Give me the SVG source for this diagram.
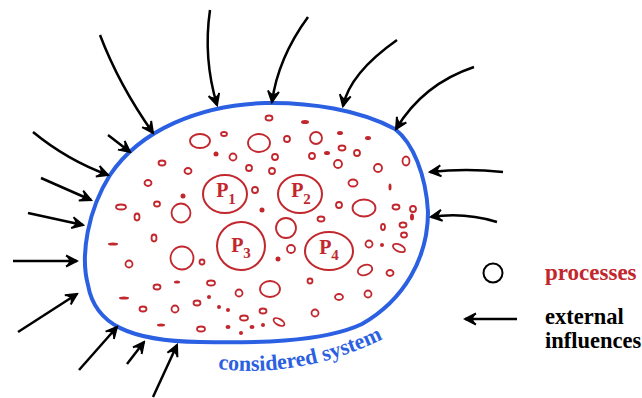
<svg xmlns="http://www.w3.org/2000/svg" width="642" height="398" viewBox="0 0 642 398">
  <style>
    .sys { fill: none; stroke: #2b60e2; stroke-width: 4; }
    .arr { fill: none; stroke: #000; stroke-width: 2.5; marker-end: url(#ah); }
    .ring { fill: none; stroke: #c1272d; stroke-width: 1.8; }
    .dot { fill: #c1272d; stroke: none; }
    .proc { fill: none; stroke: #c1272d; stroke-width: 2; }
    .plabel { font-family: "Liberation Serif", "Times New Roman", serif; font-weight: bold; font-size: 20px; fill: #c1272d; text-anchor: middle; }
    .sub { font-size: 15px; }
    .legend { font-family: "Liberation Serif", "Times New Roman", serif; font-weight: bold; font-size: 23px; }
    .legend2 { font-family: "Liberation Serif", "Times New Roman", serif; font-weight: bold; font-size: 22.5px; fill: #000; }
  </style>
  <defs>
    <marker id="ah" viewBox="-13 -7 15 14" refX="0" refY="0" markerWidth="15" markerHeight="14" markerUnits="userSpaceOnUse" orient="auto">
      <path d="M0,0 L-11,-5.5 L-7.5,0 L-11,5.5 Z" fill="#000"/>
      <path d="M-11,-5.5 L0,0 L-11,5.5" fill="none" stroke="#000" stroke-width="2" stroke-linejoin="miter"/>
    </marker>
    <path id="sysLabelPath" d="M218,369 Q305,379 391,335"/>
  </defs>

  <!-- system boundary -->
  <g id="system">
    <path class="sys" d="M265,103 C310,102 360,110 395,129 C413,143 426,175 428,212 C428,258 404,300 362,324 C322,343 250,343 200,342 C130,341 95,325 88,285 C80,255 88,210 110,175 C140,130 200,105 265,103 Z"/>
    <text font-family="Liberation Serif, Times New Roman, serif" font-weight="bold" font-size="22" fill="#2b60e2">
      <textPath href="#sysLabelPath">considered system</textPath>
    </text>
  </g>

  <!-- small processes inside the system -->
  <g id="small-processes">
    <ellipse class="ring" cx="200" cy="141" rx="10" ry="7"/>
    <ellipse class="ring" cx="259" cy="143" rx="11" ry="9"/>
    <ellipse class="ring" cx="316" cy="138" rx="6" ry="6"/>
    <ellipse class="ring" cx="181" cy="213" rx="9.5" ry="9.5"/>
    <ellipse class="ring" cx="286" cy="228" rx="10" ry="10"/>
    <ellipse class="ring" cx="182" cy="258" rx="11.5" ry="11.5"/>
    <ellipse class="ring" cx="364" cy="208" rx="11.5" ry="8.5"/>
    <ellipse class="ring" cx="270" cy="289" rx="10" ry="8"/>
    <ellipse class="ring" cx="365" cy="270" rx="7.5" ry="5" transform="rotate(-20 365 270)"/>
    <ellipse class="ring" cx="399" cy="248" rx="6.5" ry="3.5" transform="rotate(25 399 248)"/>
    <ellipse class="ring" cx="279" cy="322" rx="6" ry="3" transform="rotate(30 279 322)"/>

    <ellipse class="ring" cx="224" cy="134" rx="3" ry="2"/>
    <ellipse class="ring" cx="269" cy="118" rx="3.5" ry="2.5"/>
    <ellipse class="ring" cx="233" cy="157" rx="3.5" ry="3.5"/>
    <ellipse class="ring" cx="162" cy="163" rx="3.5" ry="2.5"/>
    <ellipse class="ring" cx="188" cy="171" rx="3.5" ry="3"/>
    <ellipse class="ring" cx="249" cy="168" rx="3" ry="3"/>
    <ellipse class="ring" cx="148" cy="183" rx="3.5" ry="3"/>
    <ellipse class="ring" cx="255" cy="190" rx="3" ry="3"/>
    <ellipse class="ring" cx="157" cy="204" rx="3" ry="2.5"/>
    <ellipse class="ring" cx="137" cy="217" rx="2.5" ry="3.5"/>
    <ellipse class="ring" cx="121" cy="207" rx="5" ry="2.5"/>
    <ellipse class="ring" cx="154" cy="238" rx="2.5" ry="3.5"/>
    <ellipse class="ring" cx="287" cy="139" rx="3" ry="3"/>
    <ellipse class="ring" cx="275" cy="157" rx="3" ry="3"/>
    <ellipse class="ring" cx="312" cy="156" rx="3" ry="3"/>
    <ellipse class="ring" cx="342" cy="148" rx="3.5" ry="2.5"/>
    <ellipse class="ring" cx="357" cy="153" rx="3" ry="3"/>
    <ellipse class="ring" cx="338" cy="164" rx="4" ry="4"/>
    <ellipse class="ring" cx="378" cy="168" rx="4" ry="4"/>
    <ellipse class="ring" cx="406" cy="161" rx="3.5" ry="4.5"/>
    <ellipse class="ring" cx="272" cy="171" rx="3" ry="3"/>
    <ellipse class="ring" cx="353" cy="183" rx="4.5" ry="3.5"/>
    <ellipse class="ring" cx="339" cy="205" rx="3" ry="3"/>
    <ellipse class="ring" cx="396" cy="207" rx="3.5" ry="2.5"/>
    <ellipse class="ring" cx="413" cy="209" rx="3" ry="3"/>
    <ellipse class="ring" cx="321" cy="219" rx="3.5" ry="2.5"/>
    <ellipse class="ring" cx="383" cy="227" rx="2" ry="3"/>
    <ellipse class="ring" cx="403" cy="225" rx="3.5" ry="2.5"/>
    <ellipse class="ring" cx="404" cy="235" rx="3" ry="2.5"/>
    <ellipse class="ring" cx="291" cy="249" rx="4" ry="4"/>
    <ellipse class="ring" cx="369" cy="244" rx="3.5" ry="3.5"/>
    <ellipse class="ring" cx="390" cy="273" rx="3.5" ry="3"/>
    <ellipse class="ring" cx="310" cy="281" rx="2.5" ry="2.5"/>
    <ellipse class="ring" cx="202" cy="262" rx="2.5" ry="2.5"/>
    <ellipse class="ring" cx="129" cy="264" rx="3.5" ry="3.5"/>
    <ellipse class="ring" cx="157" cy="287" rx="3.5" ry="2.5"/>
    <ellipse class="ring" cx="211" cy="283" rx="4" ry="2.5"/>
    <ellipse class="ring" cx="239" cy="293" rx="3.5" ry="3.5"/>
    <ellipse class="ring" cx="197" cy="303" rx="3.5" ry="2.5"/>
    <ellipse class="ring" cx="143" cy="309" rx="3.5" ry="2.5"/>
    <ellipse class="ring" cx="175" cy="309" rx="3.5" ry="3.5"/>
    <ellipse class="ring" cx="263" cy="311" rx="3.5" ry="2.5"/>
    <ellipse class="ring" cx="244" cy="318" rx="4" ry="2.5"/>
    <ellipse class="ring" cx="201" cy="329" rx="4" ry="2.5"/>
    <ellipse class="ring" cx="315" cy="313" rx="3.5" ry="3.5"/>
    <ellipse class="ring" cx="339" cy="297" rx="4" ry="3"/>
    <ellipse class="ring" cx="368" cy="294" rx="3.5" ry="3.5"/>

    <ellipse class="dot" cx="305" cy="122" rx="4" ry="2"/>
    <ellipse class="dot" cx="340" cy="133" rx="3" ry="2"/>
    <ellipse class="dot" cx="368" cy="138" rx="3" ry="2"/>
    <ellipse class="dot" cx="327" cy="153" rx="3" ry="2"/>
    <ellipse class="dot" cx="216" cy="154" rx="2.5" ry="2.5"/>
    <ellipse class="dot" cx="183" cy="196" rx="2.5" ry="2.5"/>
    <ellipse class="dot" cx="262" cy="210" rx="2.5" ry="2.5"/>
    <ellipse class="dot" cx="390" cy="187" rx="1.5" ry="3.5"/>
    <ellipse class="dot" cx="412" cy="217" rx="2" ry="3.5"/>
    <ellipse class="dot" cx="382" cy="245" rx="2" ry="2"/>
    <ellipse class="dot" cx="278" cy="259" rx="2.5" ry="2.5"/>
    <ellipse class="dot" cx="113" cy="244" rx="5" ry="1.5"/>
    <ellipse class="dot" cx="177" cy="282" rx="3" ry="1.5"/>
    <ellipse class="dot" cx="124" cy="298" rx="5" ry="1.5"/>
    <ellipse class="dot" cx="209" cy="297" rx="2" ry="2"/>
    <ellipse class="dot" cx="219" cy="307" rx="2" ry="2"/>
    <ellipse class="dot" cx="228" cy="310" rx="2" ry="2"/>
    <ellipse class="dot" cx="161" cy="325" rx="4" ry="1.5"/>
    <ellipse class="dot" cx="228" cy="327" rx="2.5" ry="2"/>
    <ellipse class="dot" cx="252" cy="327" rx="2.5" ry="2"/>
    <ellipse class="dot" cx="263" cy="325" rx="2" ry="2"/>
    <ellipse class="dot" cx="241" cy="333" rx="2" ry="2"/>
  </g>

  <!-- labelled processes -->
  <g id="P1">
    <ellipse class="proc" cx="225" cy="194" rx="22" ry="19"/>
    <text class="plabel" x="226" y="197">P<tspan class="sub" dy="7">1</tspan></text>
  </g>
  <g id="P2">
    <ellipse class="proc" cx="300" cy="194" rx="22" ry="19"/>
    <text class="plabel" x="301" y="197">P<tspan class="sub" dy="7">2</tspan></text>
  </g>
  <g id="P3">
    <ellipse class="proc" cx="241" cy="246" rx="24" ry="24"/>
    <text class="plabel" x="241" y="252">P<tspan class="sub" dy="6">3</tspan></text>
  </g>
  <g id="P4">
    <ellipse class="proc" cx="329" cy="251" rx="24" ry="19"/>
    <text class="plabel" x="329" y="254">P<tspan class="sub" dy="6">4</tspan></text>
  </g>

  <!-- external influences -->
  <g id="connectors">
    <path class="arr" d="M100,35 Q119,85 153,133"/>
    <path class="arr" d="M210,10 Q203,58 217,105"/>
    <path class="arr" d="M308,17 Q278,58 272,102"/>
    <path class="arr" d="M397,40 Q350,73 343,106"/>
    <path class="arr" d="M474,67 Q423,84 396,129"/>
    <path class="arr" d="M503,172 Q466,168 430,172"/>
    <path class="arr" d="M497,222 Q464,212 431,217"/>
    <path class="arr" d="M33,132 Q67,160 108,175"/>
    <path class="arr" d="M108,135 L130,152"/>
    <path class="arr" d="M41,178 L91,200"/>
    <path class="arr" d="M28,213 L83,225"/>
    <path class="arr" d="M13,261 L77,261"/>
    <path class="arr" d="M18,332 L77,294"/>
    <path class="arr" d="M79,370 L117,327"/>
    <path class="arr" d="M127,364 L144,342"/>
    <path class="arr" d="M153,397 L177,345"/>
  </g>

  <!-- legend -->
  <g id="legend">
    <circle cx="493" cy="273" r="9.5" fill="none" stroke="#000" stroke-width="2"/>
    <text class="legend" x="545" y="280" fill="#c1272d">processes</text>
    <path class="arr" d="M517,319 L465,319"/>
    <text class="legend2" x="545" y="324">external</text>
    <text class="legend2" x="545" y="348">influences</text>
  </g>
</svg>
